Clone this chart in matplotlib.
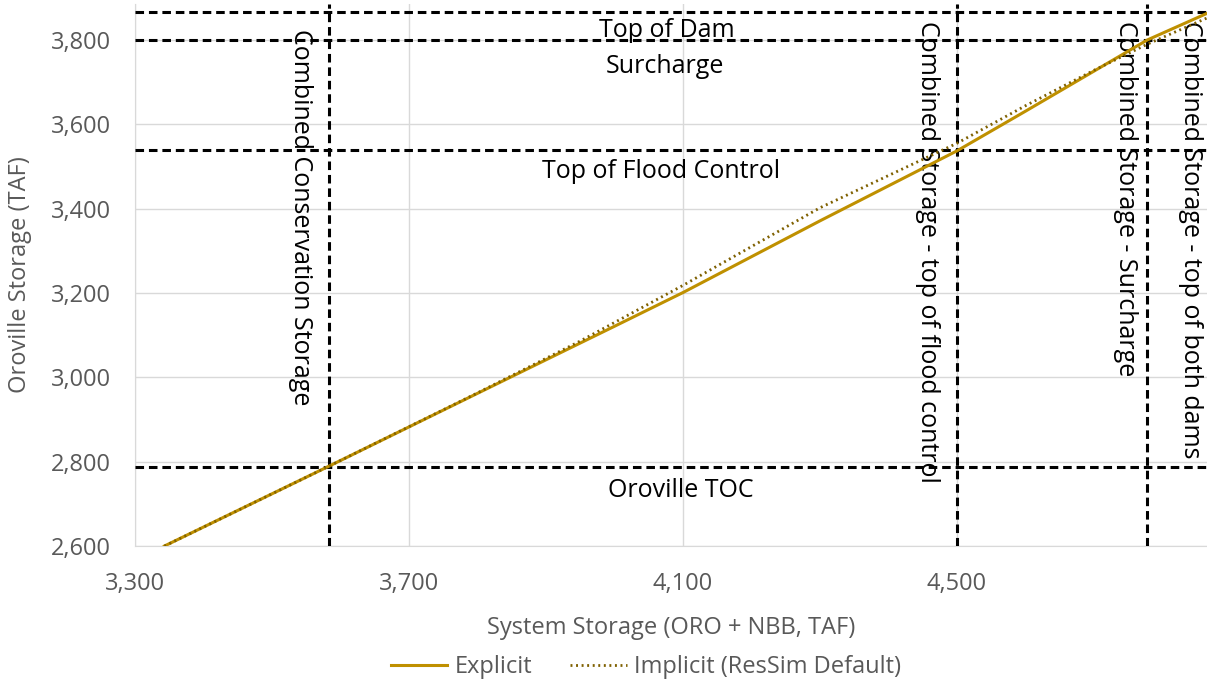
import matplotlib
matplotlib.use("Agg")
import matplotlib.pyplot as plt
from matplotlib.ticker import FuncFormatter, FixedLocator, MultipleLocator

# system storage (TAF) vs Oroville storage (TAF)
explicit_x = [3343, 3584, 3800, 4000, 4100, 4300, 4500, 4600, 4700, 4778, 4865]
explicit_y = [2600, 2790, 2962, 3121, 3201, 3371, 3537, 3631, 3726, 3800, 3863]

implicit_x = [3343, 3584, 3800, 3950, 4100, 4300, 4500, 4600, 4700, 4778, 4865]
implicit_y = [2600, 2790, 2963, 3086, 3218, 3402, 3555, 3644, 3728, 3790, 3852]

x_ticks = [3300, 3700, 4100, 4500]

# horizontal reference levels (Oroville storage)
h_levels = [3866, 3800, 3538, 2788]
h_labels = ["Top of Dam", "Surcharge", "Top of Flood Control", "Oroville TOC"]
h_label_x = [4076, 4073, 4068, 4097]

# vertical reference levels (combined storage)
v_levels = [3584, 4500, 4778]
v_labels = ["Combined Conservation Storage",
            "Combined Storage - top of flood control",
            "Combined Storage - Surcharge",
            "Combined Storage - top of both dams"]

plt.rcParams['font.family'] = ['Open Sans', 'DejaVu Sans']

fig = plt.figure(figsize=(12.07, 6.8), dpi=100)
ax = fig.add_axes([0.1118, 0.197, 0.8882, 0.797])

gold = '#BF9000'
ax.plot(explicit_x, explicit_y, color=gold, lw=2.2, label='Explicit', zorder=4)
ax.plot(implicit_x, implicit_y, color='#7F6000', lw=2.0, ls=(0, (0.7, 1.3)),
        label='Implicit (ResSim Default)', zorder=5)

dash = (0, (2.8, 1.6))
for y in h_levels:
    ax.axhline(y, color='black', lw=2.2, ls=dash, zorder=3)
for x in v_levels:
    ax.axvline(x, color='black', lw=2.2, ls=dash, zorder=3)

fs = 18
offs = [-4, -10, -6, -8]
for y, lab, lx, o in zip(h_levels, h_labels, h_label_x, offs):
    ax.annotate(lab, xy=(lx, y), xytext=(0, o), textcoords='offset points',
                ha='center', va='top', fontsize=fs, color='black')

# vertical labels: first three left of their line, last one right of 4778 line
v_pos = [(v_levels[0], -12, 'right', -18), (v_levels[1], -12, 'right', -12),
         (v_levels[2], -7, 'right', -12), (v_levels[2], 22, 'left', -12)]
for lab, (x, dx, ha, dy) in zip(v_labels, v_pos):
    ax.annotate(lab, xy=(x, 1.0), xycoords=('data', 'axes fraction'),
                xytext=(dx, dy), textcoords='offset points',
                rotation=270, ha=ha, va='top', fontsize=fs, color='black')

ax.set_xlim(3300, 4865)
ax.set_ylim(2600, 3885)
ax.xaxis.set_major_locator(FixedLocator(x_ticks))
ax.yaxis.set_major_locator(MultipleLocator(200))
fmt = FuncFormatter(lambda v, p: f'{int(v):,}')
ax.xaxis.set_major_formatter(fmt)
ax.yaxis.set_major_formatter(fmt)
ax.grid(True, color='#D9D9D9', lw=1, zorder=0)
ax.set_axisbelow(True)
for s in ['top', 'right']:
    ax.spines[s].set_visible(False)
for s in ['left', 'bottom']:
    ax.spines[s].set_color('#D9D9D9')
ax.tick_params(length=0, labelsize=17, labelcolor='#595959')
ax.tick_params(axis='x', pad=19)
ax.tick_params(axis='y', pad=17)

ax.set_xlabel('System Storage (ORO + NBB, TAF)', fontsize=17, color='#595959', labelpad=14)
ax.set_ylabel('Oroville Storage (TAF)', fontsize=17, color='#595959', labelpad=14)

fig.legend(loc='lower center', bbox_to_anchor=(0.535, -0.03), ncol=2, frameon=False,
           fontsize=17, labelcolor='#595959', handlelength=2.4, columnspacing=1.6,
           handletextpad=0.3)

fig.savefig('out.png', dpi=100)
